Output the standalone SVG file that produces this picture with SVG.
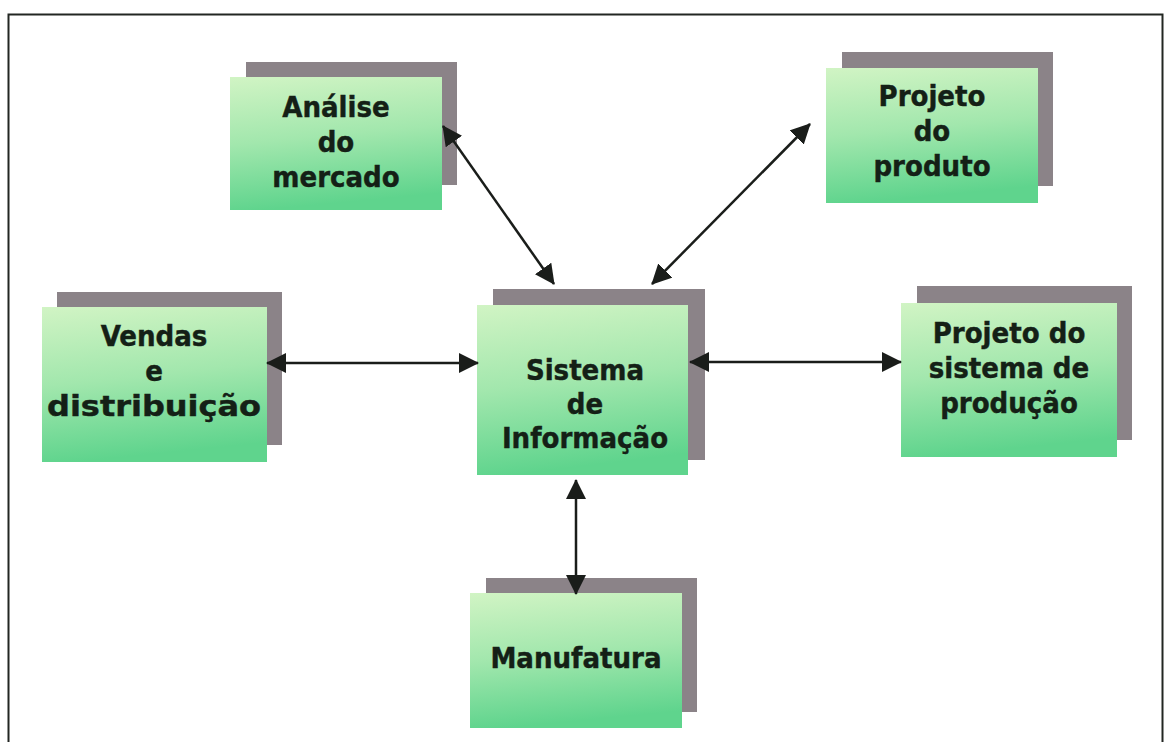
<svg xmlns="http://www.w3.org/2000/svg" width="1165" height="742" viewBox="0 0 1165 742">
  <defs>
    <linearGradient id="fill" x1="0" y1="0" x2="0.15" y2="1">
      <stop offset="0" stop-color="#d1f4c4"/>
      <stop offset="0.5" stop-color="#a2e7ad"/>
      <stop offset="1" stop-color="#5fd48d"/>
    </linearGradient>
    <marker id="head" viewBox="0 0 20 20" markerWidth="20" markerHeight="20" refX="19" refY="10" orient="auto-start-reverse" markerUnits="userSpaceOnUse">
      <path d="M0,0 L20,10 L0,20 Z" fill="#1a1d1a"/>
    </marker>
  </defs>
  <style>
    .shadow { fill: #8b8388; }
    .box { fill: url(#fill); }
    .label { font-family: "DejaVu Sans Condensed", "DejaVu Sans", sans-serif; font-stretch: condensed; font-weight: bold; font-size: 29px; fill: #142016; text-anchor: middle; stroke: #142016; stroke-width: 0.4; }
    .link { stroke: #1a1d1a; stroke-width: 2.5; fill: none; marker-start: url(#head); marker-end: url(#head); }
  </style>

  <rect width="1165" height="742" fill="#ffffff"/>
  <rect x="8.5" y="14.5" width="1154" height="740" fill="none" stroke="#222622" stroke-width="2"/>

  <g id="analise-mercado">
    <rect class="shadow" x="246" y="62" width="211" height="123"/>
    <rect class="box" x="230" y="77" width="212" height="133"/>
    <text class="label" x="336" y="117">Análise</text>
    <text class="label" x="336" y="152">do</text>
    <text class="label" x="336" y="187">mercado</text>
  </g>

  <g id="projeto-produto">
    <rect class="shadow" x="842" y="52" width="211" height="134"/>
    <rect class="box" x="826" y="68" width="212" height="135"/>
    <text class="label" x="932" y="106">Projeto</text>
    <text class="label" x="932" y="141">do</text>
    <text class="label" x="932" y="176">produto</text>
  </g>

  <g id="vendas-distribuicao">
    <rect class="shadow" x="57" y="292" width="225" height="153"/>
    <rect class="box" x="42" y="307" width="225" height="155"/>
    <text class="label" x="154" y="346">Vendas</text>
    <text class="label" x="154" y="381">e</text>
    <text class="label" x="154" y="416" textLength="214" lengthAdjust="spacingAndGlyphs">distribuição</text>
  </g>

  <g id="sistema-informacao">
    <rect class="shadow" x="493" y="289" width="212" height="171"/>
    <rect class="box" x="477" y="305" width="211" height="170"/>
    <text class="label" x="585" y="380">Sistema</text>
    <text class="label" x="585" y="414">de</text>
    <text class="label" x="585" y="448">Informação</text>
  </g>

  <g id="projeto-sistema-producao">
    <rect class="shadow" x="917" y="286" width="215" height="154"/>
    <rect class="box" x="901" y="303" width="216" height="154"/>
    <text class="label" x="1009" y="343">Projeto do</text>
    <text class="label" x="1009" y="378">sistema de</text>
    <text class="label" x="1009" y="413">produção</text>
  </g>

  <g id="manufatura">
    <rect class="shadow" x="486" y="578" width="211" height="134"/>
    <rect class="box" x="470" y="593" width="212" height="135"/>
    <text class="label" x="576" y="668">Manufatura</text>
  </g>

  <!-- two-way links from the central information system; drawn last so heads sit on top -->
  <g id="connectors">
    <line class="link" x1="267" y1="363" x2="478" y2="363"/>
    <line class="link" x1="690" y1="362" x2="901" y2="362"/>
    <line class="link" x1="443" y1="126" x2="554" y2="284"/>
    <line class="link" x1="652" y1="284" x2="810" y2="124"/>
    <line class="link" x1="576" y1="480" x2="576" y2="594"/>
  </g>
</svg>
